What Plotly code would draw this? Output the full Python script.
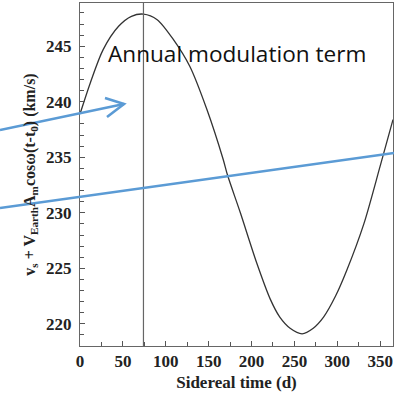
import plotly.graph_objects as go

# Sidereal time (days) and velocity (km/s)
sidereal_days = [0, 12, 27, 45, 60, 74, 90, 109, 128, 148, 167, 172, 187, 206, 222, 233, 245, 259,
                 272, 284, 298, 311, 331, 350, 365]
velocity_kms = [238.9, 241.7, 244.7, 246.8, 247.7, 247.9, 247.4, 245.6, 243.2, 239.3, 234.8, 233.4,
                230.0, 225.5, 222.2, 220.6, 219.6, 219.1, 219.6, 220.6, 222.5, 224.8, 229.0, 234.2, 238.4]
peak_day = 74

x_ticks = [0, 50, 100, 150, 200, 250, 300, 350]
x_range = [0, 365]
y_range = [218, 248.9]
y_ticks = [220, 225, 230, 235, 240, 245]

# plot area in pixels (for overlay drawing conversions)
W, H = 394, 396
L, R, T, B = 80, 1, 3, 50
PW, PH = W - L - R, H - T - B


def px(x):
    return (x - L) / PW


def py(y):
    return (H - B - y) / PH


fig = go.Figure()
fig.add_trace(go.Scatter(
    x=sidereal_days, y=velocity_kms, mode="lines",
    line=dict(color="#333333", width=1.3, shape="spline", smoothing=0.8),
    hoverinfo="skip", showlegend=False,
))

shapes = [
    dict(type="line", xref="x", yref="paper", x0=peak_day, x1=peak_day, y0=0, y1=1,
         line=dict(color="#666666", width=1.2)),
    # blue overlay arrows
    dict(type="line", xref="paper", yref="paper", x0=px(0), y0=py(130), x1=px(124), y1=py(104),
         line=dict(color="#5B9BD5", width=2.6)),
    dict(type="path", xref="paper", yref="paper",
         path=f"M {px(105)} {py(98)} L {px(124)} {py(104)} L {px(107)} {py(117)}",
         line=dict(color="#5B9BD5", width=2.6)),
    dict(type="line", xref="paper", yref="paper", x0=px(0), y0=py(208), x1=px(394), y1=py(153),
         line=dict(color="#5B9BD5", width=2.6)),
]

axis_font = dict(family="Liberation Serif", size=17, color="#222222")

fig.update_layout(
    width=W, height=H,
    margin=dict(l=L, r=R, t=T, b=B),
    paper_bgcolor="white", plot_bgcolor="white",
    shapes=shapes,
    xaxis=dict(
        range=x_range, tickvals=x_ticks, ticktext=[f"<b>{v}</b>" for v in x_ticks],
        ticks="inside", ticklen=5, tickcolor="#555555",
        minor=dict(dtick=25, ticks="inside", ticklen=4, tickcolor="#555555"),
        showline=True, linecolor="#666666", linewidth=1, mirror=True,
        showgrid=False, zeroline=False, tickfont=axis_font,
        title=dict(text="<b>Sidereal time (d)</b>", font=dict(family="Liberation Serif", size=17, color="#222222"),
                   standoff=5),
    ),
    yaxis=dict(
        range=y_range, tickvals=y_ticks, ticktext=[f"<b>{v}</b>" for v in y_ticks],
        ticks="inside", ticklen=5, tickcolor="#555555",
        minor=dict(dtick=1, ticks="inside", ticklen=4, tickcolor="#555555"),
        showline=True, linecolor="#666666", linewidth=1, mirror=True,
        showgrid=False, zeroline=False, tickfont=axis_font, ticklabelstandoff=4,
        title=dict(text="<b>v<sub>s</sub> + V<sub>Earth</sub>A<sub>m</sub>cosω(t-t<sub>0</sub>) (km/s)</b>",
                   font=dict(family="Liberation Serif", size=16, color="#222222"), standoff=6),
    ),
    annotations=[dict(
        text="Annual modulation term", xref="paper", yref="paper",
        x=px(237), y=py(53), xanchor="center", yanchor="middle", showarrow=False,
        font=dict(family="Open Sans", size=22.6, color="#111111"),
    )],
)

fig.write_html("out.html")
